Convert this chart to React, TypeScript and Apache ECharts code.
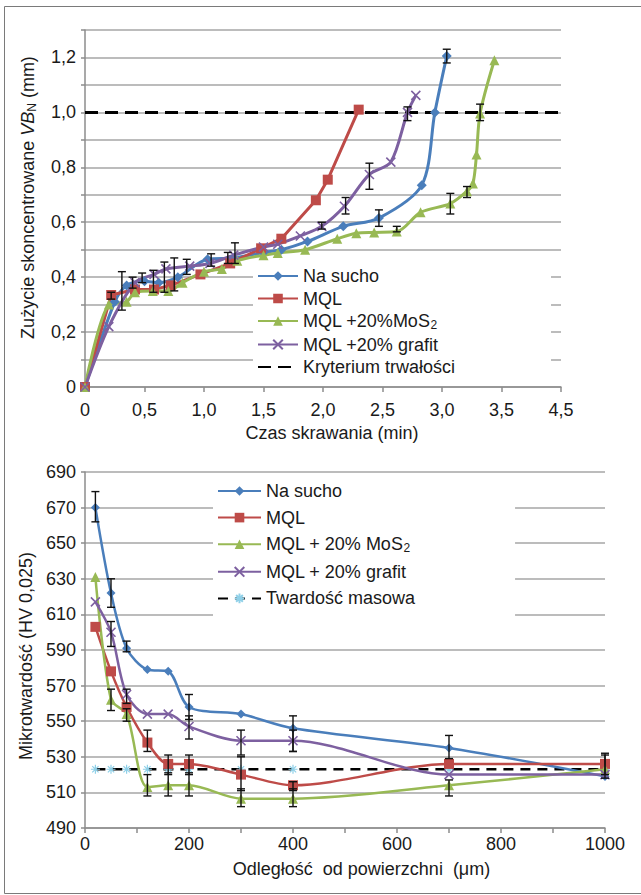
import React, { useEffect, useRef } from 'react';
import * as echarts from 'echarts';

// ---------- Top chart: tool wear VB_N vs cutting time ----------
const dryTime = [0, 0.25, 0.35, 0.5, 0.62, 0.78, 1.03, 1.25, 1.5, 1.65, 1.87, 2.17, 2.47, 2.83, 2.94, 3.04];
const dryWear = [0, 0.31, 0.37, 0.385, 0.38, 0.4, 0.465, 0.47, 0.49, 0.5, 0.53, 0.585, 0.615, 0.735, 1.0, 1.205];

const mqlTime = [0, 0.22, 0.42, 0.58, 0.72, 0.97, 1.22, 1.48, 1.65, 1.94, 2.04, 2.3];
const mqlWear = [0, 0.335, 0.355, 0.355, 0.37, 0.41, 0.45, 0.505, 0.54, 0.68, 0.755, 1.01];

const mosTime = [0, 0.2, 0.35, 0.42, 0.57, 0.7, 0.82, 1.0, 1.15, 1.28, 1.5, 1.62, 1.85, 2.12, 2.28, 2.43, 2.62, 2.82, 3.07, 3.21, 3.26, 3.29, 3.32, 3.44];
const mosWear = [0, 0.3, 0.31, 0.345, 0.35, 0.35, 0.38, 0.42, 0.43, 0.46, 0.48, 0.488, 0.5, 0.54, 0.56, 0.563, 0.566, 0.636, 0.668, 0.713, 0.741, 0.847, 0.996, 1.19];

const grafTime = [0, 0.2, 0.42, 0.58, 0.68, 0.88, 1.05, 1.25, 1.5, 1.62, 1.81, 1.99, 2.18, 2.39, 2.57, 2.71, 2.78];
const grafWear = [0, 0.22, 0.38, 0.41, 0.43, 0.44, 0.45, 0.48, 0.51, 0.52, 0.55, 0.585, 0.658, 0.774, 0.819, 1.0, 1.062];

const criterionTime = [0, 4];
const criterionWear = [1.0, 1.0];

// error bars: [time, low, high]
const wearErrors = [
  [0.22, 0.32, 0.345], [0.31, 0.28, 0.42], [0.4, 0.36, 0.4], [0.48, 0.38, 0.415], [0.575, 0.345, 0.425],
  [0.667, 0.345, 0.455], [0.75, 0.35, 0.47], [0.855, 0.41, 0.465], [1.06, 0.44, 0.485],
  [1.2, 0.45, 0.49], [1.26, 0.45, 0.525], [1.99, 0.575, 0.6], [2.19, 0.63, 0.69], [2.39, 0.72, 0.815],
  [2.47, 0.585, 0.645], [2.62, 0.565, 0.585], [2.71, 0.97, 1.02], [3.04, 1.18, 1.23],
  [3.07, 0.63, 0.705], [3.21, 0.69, 0.73], [3.32, 0.97, 1.03],
];

const topXTickLabels = ['0', '0,5', '1,0', '1,5', '2,0', '2,5', '3,0', '3,5', '4,5'];

// ---------- Bottom chart: microhardness vs depth ----------
const depth = [20, 50, 80, 120, 160, 200, 300, 400, 700, 1000];
const hvDry = [670, 622, 591, 579, 578, 558, 554, 546, 535, 519];
const hvMql = [603, 578, 558, 538, 526, 526, 520, 514, 526, 526];
const hvMos = [631, 562, 554, 513, 514, 514, 506.5, 506.5, 514, 523];
const hvGraf = [617, 600, 565, 554, 554, 547, 539, 539, 520, 520];
const bulkDepth = [20, 50, 80, 120, 160, 200, 300, 400, 700, 1000];
const bulkHv = [523, 523, 523, 523, 523, 523, 523, 523, 523, 523];

const hvErrors = [
  [20, 662, 679], [50, 614, 630], [80, 589, 595], [200, 551, 565], [400, 533, 553], [700, 529, 542],
  [120, 533, 545], [160, 520, 531], [200, 520, 531], [300, 511, 530], [400, 511, 516], [1000, 520, 531],
  [50, 556, 568], [80, 550, 557], [120, 508, 520], [160, 508, 521], [200, 508, 521], [300, 502, 512],
  [400, 502, 512], [700, 508, 517],
  [50, 592, 606], [80, 560, 568], [200, 540, 553], [300, 531, 545], [400, 533, 545], [1000, 518, 532],
];

const seriesNames = {
  dry: 'Na sucho',
  mql: 'MQL',
  mosTop: 'MQL +20%MoS2',
  grafTop: 'MQL +20% grafit',
  crit: 'Kryterium trwałości',
  mosBottom: 'MQL + 20% MoS2',
  grafBottom: 'MQL + 20% grafit',
  bulk: 'Twardość masowa',
};

const BLUE = '#4a7ebb';
const RED = '#be4b48';
const GREEN = '#98b954';
const PURPLE = '#7d60a0';
const TEXT = '#1a1a1a';
const GRID = '#a6a6a6';
const AXIS = '#8c8c8c';
const FONT = 'Liberation Sans, Arial, sans-serif';
const FS = 18;

const X_SYMBOL = 'path://M0,0L10,10M10,0L0,10';
const STAR_SYMBOL = 'path://M5,0L5,10M0,5L10,5M1.5,1.5L8.5,8.5M8.5,1.5L1.5,8.5';

const zip = (xs: number[], ys: number[]) => xs.map((x, i) => [x, ys[i]]);

const errorRender = (params: any, api: any) => {
  const x = api.value(0);
  const lo = api.coord([x, api.value(1)]);
  const hi = api.coord([x, api.value(2)]);
  const w = 4;
  const style = { stroke: '#111', lineWidth: 1.4 };
  return {
    type: 'group',
    children: [
      { type: 'line', shape: { x1: lo[0], y1: lo[1], x2: hi[0], y2: hi[1] }, style },
      { type: 'line', shape: { x1: lo[0] - w, y1: lo[1], x2: lo[0] + w, y2: lo[1] }, style },
      { type: 'line', shape: { x1: hi[0] - w, y1: hi[1], x2: hi[0] + w, y2: hi[1] }, style },
    ],
  };
};

const legendFormatter = (name: string) => {
  if (name.endsWith('MoS2')) return `{t|${name.slice(0, -1)}}{s|2}`;
  return `{t|${name}}`;
};

const legendRich = {
  t: { fontSize: FS, color: TEXT, fontFamily: FONT, lineHeight: 20 },
  s: { fontSize: 12, color: TEXT, fontFamily: FONT, lineHeight: 11, verticalAlign: 'bottom' },
};

export default function App() {
  const ref = useRef<HTMLDivElement>(null);

  useEffect(() => {
    document.body.style.margin = '0';
    if (!ref.current) return;
    const chart = echarts.init(ref.current, undefined, { renderer: 'svg' });

    const lineBase = (name: string, color: string, symbol: string, size: number, data: number[][], xi: number, smooth: number | boolean, width: number) => ({
      type: 'line',
      name,
      xAxisIndex: xi,
      yAxisIndex: xi,
      data,
      smooth,
      symbol,
      symbolSize: size,
      showSymbol: true,
      lineStyle: { color, width },
      itemStyle: { color, borderColor: color, borderWidth: symbol === X_SYMBOL ? 1.6 : 0 },
      emphasis: { disabled: true },
      z: 3,
    });

    const option: any = {
      animation: false,
      textStyle: { fontFamily: FONT },
      graphic: [
        {
          type: 'rect',
          shape: { x: 4.5, y: 6.5, width: 660, height: 887 },
          style: { fill: 'none', stroke: '#7a7a7a', lineWidth: 1 },
          silent: true,
        },
      ],
      grid: [
        { left: 85, top: 30, width: 476, height: 357 },
        { left: 85, top: 472, width: 520, height: 356 },
      ],
      xAxis: [
        {
          type: 'value',
          gridIndex: 0,
          min: 0,
          max: 4,
          interval: 0.5,
          axisLine: { show: true, lineStyle: { color: AXIS, width: 1.5 } },
          axisTick: { show: true, length: 5, lineStyle: { color: AXIS, width: 1.5 } },
          splitLine: { show: false },
          axisLabel: {
            fontSize: FS,
            color: TEXT,
            margin: 14,
            formatter: (v: number) => topXTickLabels[Math.round(v / 0.5)] ?? '',
          },
          name: 'Czas skrawania (min)',
          nameLocation: 'middle',
          nameGap: 37,
          nameTextStyle: { fontSize: FS, color: TEXT, padding: [0, 0, 0, 18] },
        },
        {
          type: 'value',
          gridIndex: 1,
          min: 0,
          max: 1000,
          interval: 100,
          axisLine: { show: true, lineStyle: { color: AXIS, width: 1.5 } },
          axisTick: { show: true, length: 5, lineStyle: { color: AXIS, width: 1.5 } },
          splitLine: { show: false },
          axisLabel: {
            fontSize: FS,
            color: TEXT,
            margin: 7,
            formatter: (v: number) => (Math.round(v) % 200 === 0 ? String(Math.round(v)) : ''),
          },
          name: 'Odległość  od powierzchni  (μm)',
          nameLocation: 'middle',
          nameGap: 32,
          nameTextStyle: { fontSize: FS, color: TEXT, padding: [0, 0, 0, 33] },
        },
      ],
      yAxis: [
        {
          type: 'value',
          gridIndex: 0,
          min: 0,
          max: 1.3,
          interval: 0.1,
          axisLine: { show: true, lineStyle: { color: AXIS, width: 1.5 } },
          axisTick: { show: true, length: 4, lineStyle: { color: AXIS, width: 1.5 } },
          splitLine: { show: true, lineStyle: { color: GRID, width: 1.5 } },
          axisLabel: {
            fontSize: FS,
            color: TEXT,
            margin: 9,
            formatter: (v: number) => {
              const k = Math.round(v * 10);
              if (k === 0) return '0';
              if (k % 2 !== 0) return '';
              return (k / 10).toFixed(1).replace('.', ',');
            },
          },
          name: '{a|Zużycie skoncentrowane }{i|VB}{s|N}{a| (mm)}',
          nameLocation: 'middle',
          nameGap: 47,
          nameRotate: 90,
          nameTextStyle: {
            padding: [0, 0, 0, 22],
            rich: {
              a: { fontSize: FS, color: TEXT, fontFamily: FONT, lineHeight: 20 },
              i: { fontSize: FS, color: TEXT, fontFamily: FONT, fontStyle: 'italic', lineHeight: 20 },
              s: { fontSize: 12, color: TEXT, fontFamily: FONT, lineHeight: 11, verticalAlign: 'bottom' },
            },
          },
        },
        {
          type: 'value',
          gridIndex: 1,
          min: 490,
          max: 690,
          interval: 20,
          axisLine: { show: true, lineStyle: { color: AXIS, width: 1.5 } },
          axisTick: { show: true, length: 4, lineStyle: { color: AXIS, width: 1.5 } },
          splitLine: { show: true, lineStyle: { color: GRID, width: 1.5 } },
          axisLabel: { fontSize: FS, color: TEXT, margin: 9 },
          name: 'Mikrotwardość (HV 0,025)',
          nameLocation: 'middle',
          nameGap: 47,
          nameRotate: 90,
          nameTextStyle: { fontSize: FS, color: TEXT, padding: [0, 12, 0, 0] },
        },
      ],
      legend: [
        {
          orient: 'vertical',
          left: 253,
          top: 264,
          padding: [3, 96, 2, 4],
          backgroundColor: '#ffffff',
          itemWidth: 40,
          itemHeight: 12,
          itemGap: 4.5,
          selectedMode: false,
          formatter: legendFormatter,
          textStyle: { rich: legendRich, fontSize: FS, color: TEXT },
          data: [
            seriesNames.dry,
            seriesNames.mql,
            seriesNames.mosTop,
            seriesNames.grafTop,
            { name: seriesNames.crit, itemStyle: { opacity: 0 } },
          ],
        },
        {
          orient: 'vertical',
          left: 213,
          top: 478,
          padding: [4, 100, 9, 4],
          backgroundColor: '#ffffff',
          itemWidth: 43,
          itemHeight: 12,
          itemGap: 8.6,
          selectedMode: false,
          formatter: legendFormatter,
          textStyle: { rich: legendRich, fontSize: FS, color: TEXT },
          data: [seriesNames.dry, seriesNames.mql, seriesNames.mosBottom, seriesNames.grafBottom, seriesNames.bulk],
        },
      ],
      series: [
        lineBase(seriesNames.dry, BLUE, 'diamond', 10, zip(dryTime, dryWear), 0, 0.3, 3),
        lineBase(seriesNames.mql, RED, 'rect', 10, zip(mqlTime, mqlWear), 0, false, 3),
        lineBase(seriesNames.mosTop, GREEN, 'triangle', 10, zip(mosTime, mosWear), 0, 0.3, 3),
        lineBase(seriesNames.grafTop, PURPLE, X_SYMBOL, 9, zip(grafTime, grafWear), 0, 0.3, 3),
        {
          type: 'line',
          name: seriesNames.crit,
          xAxisIndex: 0,
          yAxisIndex: 0,
          data: zip(criterionTime, criterionWear),
          symbol: 'none',
          showSymbol: false,
          lineStyle: { color: '#000', width: 3, type: [13, 7] },
          itemStyle: { color: '#000' },
          z: 2,
        },
        {
          type: 'custom',
          xAxisIndex: 0,
          yAxisIndex: 0,
          renderItem: errorRender,
          data: wearErrors,
          encode: { x: 0, y: [1, 2] },
          silent: true,
          z: 4,
        },
        {
          type: 'line',
          name: seriesNames.bulk,
          xAxisIndex: 1,
          yAxisIndex: 1,
          data: zip(bulkDepth, bulkHv),
          symbol: STAR_SYMBOL,
          symbolSize: 9,
          lineStyle: { color: '#000', width: 2.5, type: [10, 7] },
          itemStyle: { color: '#8fd0e8', borderColor: '#8fd0e8', borderWidth: 1.2 },
          z: 2,
        },
        lineBase(seriesNames.dry, BLUE, 'diamond', 9, zip(depth, hvDry), 1, 0.3, 2.5),
        lineBase(seriesNames.mql, RED, 'rect', 10, zip(depth, hvMql), 1, 0.3, 2.5),
        lineBase(seriesNames.mosBottom, GREEN, 'triangle', 10, zip(depth, hvMos), 1, 0.3, 2.5),
        lineBase(seriesNames.grafBottom, PURPLE, X_SYMBOL, 9, zip(depth, hvGraf), 1, 0.3, 2.5),
        {
          type: 'custom',
          xAxisIndex: 1,
          yAxisIndex: 1,
          renderItem: errorRender,
          data: hvErrors,
          encode: { x: 0, y: [1, 2] },
          silent: true,
          z: 4,
        },
      ],
    };

    chart.setOption(option);
    return () => chart.dispose();
  }, []);

  return <div ref={ref} style={{ width: 641, height: 895 }} />;
}
